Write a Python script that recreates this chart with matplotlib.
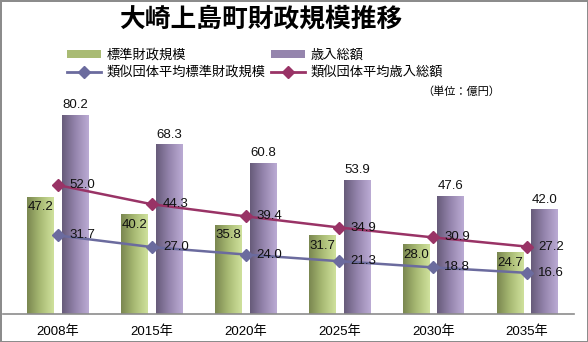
import numpy as np
import matplotlib
matplotlib.use("Agg")
from matplotlib import pyplot as plt
from matplotlib.colors import LinearSegmentedColormap
from matplotlib.lines import Line2D
from matplotlib.patches import Patch

plt.rcParams["font.family"] = ["Liberation Sans", "Noto Sans CJK JP", "DejaVu Sans"]

# データ（単位：億円）
years = ["2008年", "2015年", "2020年", "2025年", "2030年", "2035年"]
std_scale = [47.2, 40.2, 35.8, 31.7, 28.0, 24.7]
revenue = [80.2, 68.3, 60.8, 53.9, 47.6, 42.0]
avg_std_scale = [31.7, 27.0, 24.0, 21.3, 18.8, 16.6]
avg_revenue = [52.0, 44.3, 39.4, 34.9, 30.9, 27.2]

green_cmap = LinearSegmentedColormap.from_list("g", ["#7a8750", "#a9bb74", "#cfe19c"])
purple_cmap = LinearSegmentedColormap.from_list("p", ["#675b7a", "#9585ad", "#bbabd4"])
line_std_color = "#6b6b9e"
line_rev_color = "#993366"

W, H = 588, 342
fig = plt.figure(figsize=(W / 100, H / 100), dpi=100)
fig.patch.set_edgecolor("#8c8c8c")
fig.patch.set_linewidth(2)

# 軸の位置（ピクセル）
ax_l, ax_r, ax_b, ax_t = 3, 574, 314, 91
ax = fig.add_axes([ax_l / W, 1 - ax_b / H, (ax_r - ax_l) / W, (ax_b - ax_t) / H])

x = np.arange(len(years))
bw = 0.28
off = 0.185

bars_g = ax.bar(x - off, std_scale, bw, color="none", edgecolor="none")
bars_p = ax.bar(x + off, revenue, bw, color="none", edgecolor="none")

grad = np.linspace(0, 1, 64).reshape(1, -1)
for bars, cmap in [(bars_g, green_cmap), (bars_p, purple_cmap)]:
    for b in bars:
        x0, y0 = b.get_x(), b.get_y()
        ax.imshow(grad, cmap=cmap, aspect="auto", interpolation="bicubic",
                  extent=(x0, x0 + b.get_width(), y0, y0 + b.get_height()), zorder=2)

ax.plot(x, avg_revenue, color=line_rev_color, lw=1.8, marker="D", ms=6.5, zorder=4)
ax.plot(x, avg_std_scale, color=line_std_color, lw=1.8, marker="D", ms=6.5, zorder=4)

lab_font = dict(fontsize=9.5, color="#111111", zorder=5)
for i in range(len(years)):
    ax.annotate(f"{std_scale[i]:.1f}", (x[i] - off, std_scale[i]), xytext=(0, -3),
                textcoords="offset points", ha="center", va="top", **lab_font)
    ax.annotate(f"{revenue[i]:.1f}", (x[i] + off, revenue[i]), xytext=(0, 3),
                textcoords="offset points", ha="center", va="bottom", **lab_font)
    ax.annotate(f"{avg_revenue[i]:.1f}", (x[i], avg_revenue[i]), xytext=(8, 0),
                textcoords="offset points", ha="left", va="center", **lab_font)
    ax.annotate(f"{avg_std_scale[i]:.1f}", (x[i], avg_std_scale[i]), xytext=(8, 0),
                textcoords="offset points", ha="left", va="center", **lab_font)

ax.set_xlim(-0.586, 5.5)
ax.set_ylim(0, 90)
ax.set_xticks(x)
ax.set_xticklabels(years, fontsize=9.5)
ax.tick_params(axis="x", length=0, pad=8)
ax.set_yticks([])
for s in ["left", "right", "top"]:
    ax.spines[s].set_visible(False)
ax.spines["bottom"].set_color("#8c8c8c")
ax.spines["bottom"].set_linewidth(1.2)
ax.patch.set_alpha(0)

fig.text(261 / W, 1 - 19 / H, "大崎上島町財政規模推移", ha="center", va="center",
         fontsize=18.5, fontweight="bold", family=["Noto Sans CJK JP"])
fig.text(500 / W, 1 - 92 / H, "（単位：億円）", ha="right", va="center",
         fontsize=8, family=["Noto Sans CJK JP"])

# 凡例
handles = [
    Patch(facecolor="#a9bb74"),
    Line2D([], [], color=line_std_color, lw=2, marker="D", ms=6),
    Patch(facecolor="#9585ad"),
    Line2D([], [], color=line_rev_color, lw=2, marker="D", ms=6),
]
labels = ["標準財政規模", "類似団体平均標準財政規模", "歳入総額", "類似団体平均歳入総額"]
leg = fig.legend(handles, labels, ncol=2, loc="upper left",
                 bbox_to_anchor=(55 / W, 1 - 37 / H), frameon=False,
                 prop={"family": ["Noto Sans CJK JP"], "size": 9.5},
                 handlelength=2.6, handleheight=0.5, handletextpad=0.4,
                 columnspacing=0.4, labelspacing=0.3)

fig.savefig("out.png", dpi=100, edgecolor=fig.get_edgecolor())
